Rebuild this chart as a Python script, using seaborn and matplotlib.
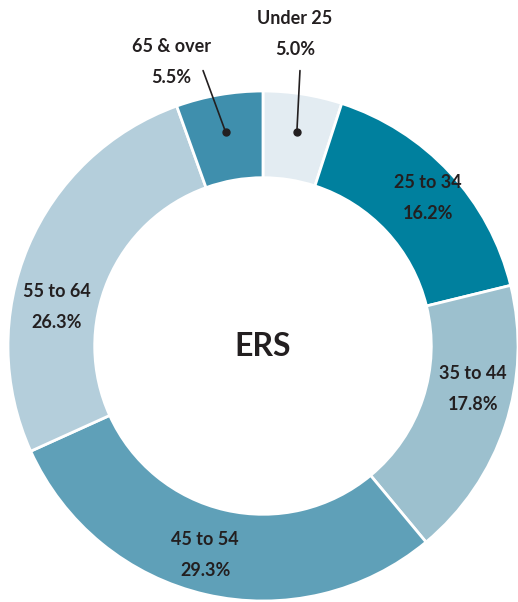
# donut chart of ERS members by age group
import numpy as np
import matplotlib
matplotlib.use("Agg")
import matplotlib.pyplot as plt
import seaborn as sns

# data
age_groups = ["Under 25", "25 to 34", "35 to 44", "45 to 54", "55 to 64", "65 & over"]
shares = [5.0, 16.2, 17.8, 29.3, 26.3, 5.5]
center_title = "ERS"

# style
sns.set_style("white")
plt.rcParams['font.family'] = ['Lato', 'DejaVu Sans']
colors = sns.color_palette(["#E3ECF2", "#00809E", "#9CC0CE", "#5FA0B8", "#B4CEDB", "#3F8FAD"])
text_color = "#231F20"

fig = plt.figure(figsize=(5.18, 6.02), dpi=100)
ax = fig.add_axes([8 / 518, 1 / 602, 510 / 518, 510 / 602])

wedges, _ = ax.pie(shares, colors=colors, startangle=90, counterclock=False,
                   radius=1.0, wedgeprops=dict(width=0.34, edgecolor="white", linewidth=2))
ax.set_xlim(-1, 1)
ax.set_ylim(-1, 1)
ax.set_aspect("equal")
ax.axis("off")

# label positions (data coords) for the segments labelled inside the ring
inside_pos = {"25 to 34": (0.646, 0.58), "35 to 44": (0.823, -0.17),
              "45 to 54": (-0.227, -0.82), "55 to 64": (-0.808, 0.153)}
# labels outside the ring: text position and top of the leader line
outside_pos = {"Under 25": (0.125, 1.224), "65 & over": (-0.36, 1.115)}
leader_top = {"Under 25": (0.145, 1.08), "65 & over": (-0.235, 1.08)}

label_kw = dict(ha="center", va="center", fontsize=13, fontweight="bold",
                color=text_color, linespacing=2.0, clip_on=False)

for w, name, val in zip(wedges, age_groups, shares):
    label = f"{name}\n{val:.1f}%"
    if name in inside_pos:
        x, y = inside_pos[name]
        ax.text(x, y, label, **label_kw)
    else:
        mid = np.deg2rad((w.theta1 + w.theta2) / 2)
        dx, dy = 0.85 * np.cos(mid), 0.85 * np.sin(mid)
        x, y = outside_pos[name]
        ax.text(x, y, label, **label_kw)
        lx, ly = leader_top[name]
        ax.plot([lx, dx], [ly, dy], color=text_color, lw=1.2, clip_on=False)
        ax.plot(dx, dy, "o", color=text_color, ms=5, clip_on=False)

ax.text(0, 0, center_title, ha="center", va="center", fontsize=23,
        fontweight="bold", color=text_color)

fig.savefig("out.png", dpi=100)
plt.close()
